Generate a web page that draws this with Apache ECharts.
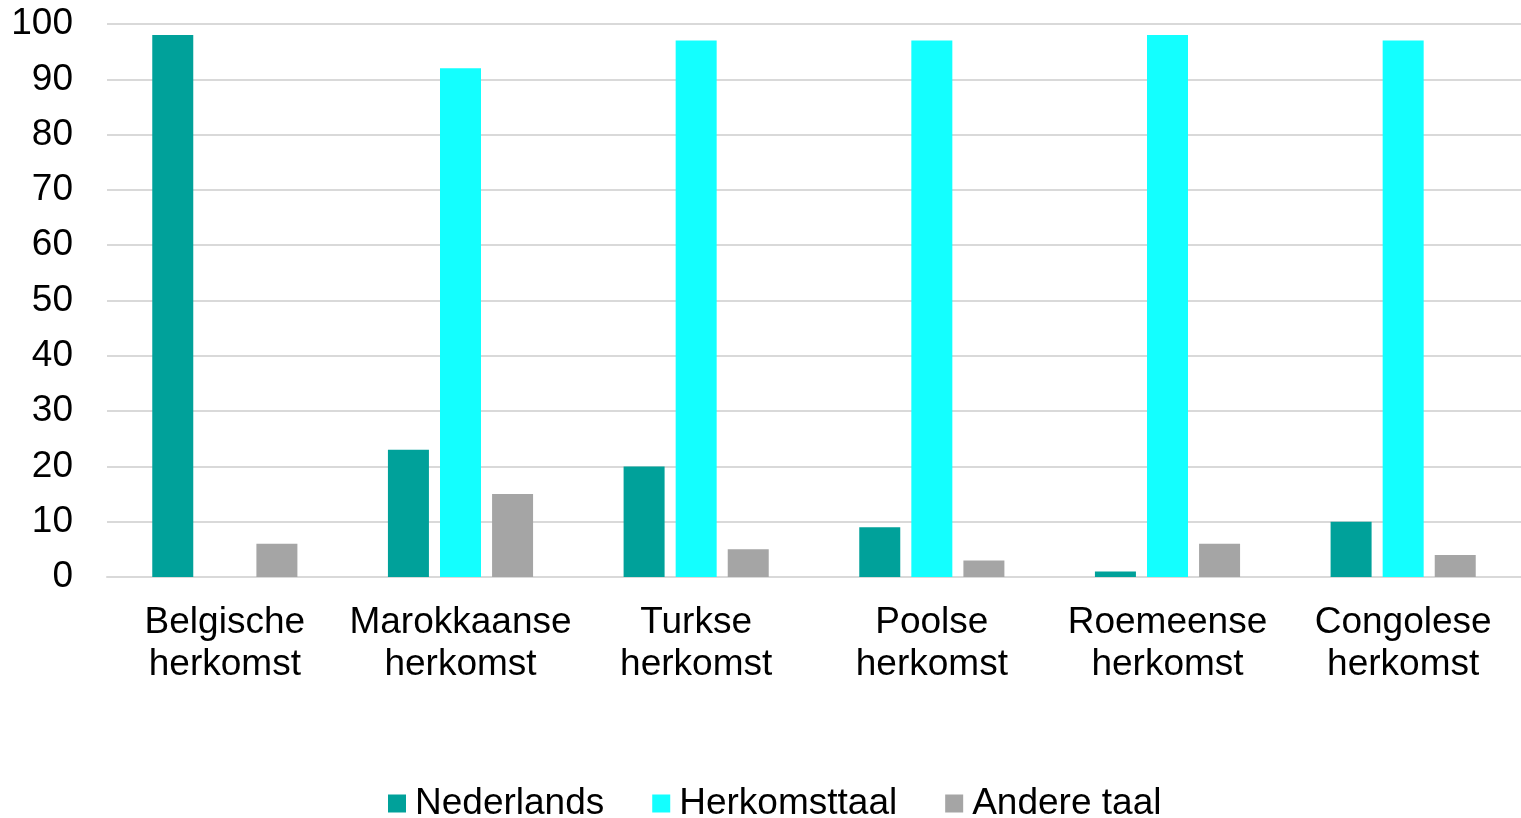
<!DOCTYPE html>
<html><head><meta charset="utf-8">
<script src="https://cdn.jsdelivr.net/npm/echarts@6/dist/echarts.min.js"></script>
<style>html,body{margin:0;padding:0;background:#fff}#c{width:1521px;height:818px}</style>
</head><body><div id="c"></div>
<script>
const categories = ["Belgische\nherkomst","Marokkaanse\nherkomst","Turkse\nherkomst","Poolse\nherkomst","Roemeense\nherkomst","Congolese\nherkomst"];
const seriesNames = ["Nederlands","Herkomsttaal","Andere taal"];
const nederlands = [98,23,20,9,1,10];
const herkomsttaal = [0,92,97,97,98,97];
const andereTaal = [6,15,5,3,6,4];
const yTicks = [0,10,20,30,40,50,60,70,80,90,100];
const colors = ["#00A19A","#13FFFF","#A5A5A5"];
const font = "'Liberation Sans', Arial, sans-serif";
const chart = echarts.init(document.getElementById('c'));
const mk = (name, data, color) => ({
  name, type: 'bar', data, barWidth: 41, barGap: '27%',
  itemStyle: { color }, emphasis: { disabled: true }
});
chart.setOption({
  animation: false,
  textStyle: { fontFamily: font },
  grid: { left: 107, right: 0, top: 24, bottom: 241, containLabel: false },
  legend: {
    data: seriesNames, left: 388, top: 785, padding: 0, itemWidth: 18, itemHeight: 18, itemGap: 48,
    icon: 'rect',
    textStyle: { fontSize: 37, color: '#000', fontFamily: font, padding: [0,0,0,4] }
  },
  xAxis: {
    type: 'category', data: categories,
    axisLine: { show: true, lineStyle: { color: '#D9D9D9', width: 2 } },
    axisTick: { show: false },
    axisLabel: { fontSize: 37, color: '#000', lineHeight: 42, margin: 25, interval: 0, fontFamily: font }
  },
  yAxis: {
    type: 'value', min: yTicks[0], max: yTicks[yTicks.length-1], interval: 10,
    axisLine: { show: false }, axisTick: { show: false },
    splitLine: { lineStyle: { color: '#D9D9D9', width: 2 } },
    axisLabel: { fontSize: 37, color: '#000', margin: 34, fontFamily: font }
  },
  series: [mk(seriesNames[0], nederlands, colors[0]), mk(seriesNames[1], herkomsttaal, colors[1]), mk(seriesNames[2], andereTaal, colors[2])]
});
</script></body></html>
